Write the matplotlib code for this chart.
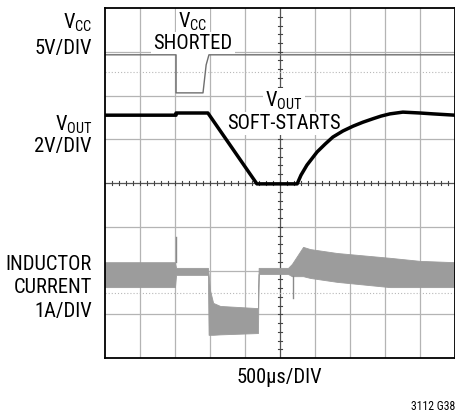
import matplotlib
matplotlib.use("Agg")
import matplotlib.pyplot as plt
from matplotlib import font_manager

# ---------------- data (scope divisions: x 0..10, y 0..8) ----------------
vcc_t = [0.0, 2.03, 2.03, 2.80, 2.89, 2.97, 10.0]
vcc_v = [6.93, 6.93, 6.06, 6.06, 6.70, 6.93, 6.93]

vout_t = [0.0, 2.03, 2.03, 2.94, 4.34, 5.49, 5.60, 5.77, 6.06, 6.29, 6.51, 6.80,
          7.09, 7.37, 7.66, 7.89, 8.14, 8.51, 9.00, 9.37, 10.0]
vout_v = [5.55, 5.55, 5.60, 5.60, 3.98, 3.98, 4.18, 4.41, 4.71, 4.89, 5.05, 5.19,
          5.30, 5.39, 5.47, 5.53, 5.58, 5.62, 5.60, 5.58, 5.55]

il_t = [0.0, 2.00, 2.03, 2.94, 2.96, 3.00, 3.09, 3.29, 4.37, 4.39, 5.23, 5.34, 5.66, 5.86, 6.63, 8.14, 9.00, 10.0]
il_hi = [2.19, 2.19, 2.06, 2.06, 1.92, 1.55, 1.26, 1.19, 1.14, 2.06, 2.06, 2.15, 2.54, 2.49, 2.40, 2.29, 2.22, 2.19]
il_lo = [1.62, 1.62, 1.90, 1.90, 0.53, 0.53, 0.53, 0.54, 0.57, 1.92, 1.92, 1.87, 1.87, 1.83, 1.74, 1.62, 1.62, 1.62]

spike_t = [2.03, 5.37]
spike_from = [2.19, 1.87]
spike_to = [2.77, 1.37]

marker_levels = [6.54, 1.49]

left_labels = [("V$_{\\mathregular{CC}}$", 29), ("5V/DIV", 54),
               ("V$_{\\mathregular{OUT}}$", 131), ("2V/DIV", 152),
               ("INDUCTOR", 270), ("CURRENT", 293), ("1A/DIV", 317)]

# ---------------- style ----------------
names = {f.name for f in font_manager.fontManager.ttflist}
fam, FS = "Roboto", 13.0
for cand in ["Roboto Condensed", "Liberation Sans Narrow", "Arial Narrow"]:
    if cand in names:
        fam, FS = cand, 14.8
        break
if fam not in names:
    fam, FS = "Liberation Sans", 12.2
plt.rcParams["font.family"] = [fam, "DejaVu Sans"]
plt.rcParams["mathtext.fontset"] = "custom"
plt.rcParams["mathtext.rm"] = fam
plt.rcParams["mathtext.it"] = fam
plt.rcParams["mathtext.bf"] = fam

W, H = 456, 416
fig = plt.figure(figsize=(W / 100, H / 100), dpi=100)
ax = fig.add_axes([105 / W, (H - 358) / H, 350 / W, 350 / H])
ax.set_xlim(0, 10)
ax.set_ylim(0, 8)
ax.set_xticks([])
ax.set_yticks([])
for s in ax.spines.values():
    s.set_linewidth(1.3)
    s.set_color("black")
    s.set_zorder(6)

def fx(px):
    return px / W

def fy(py):
    return 1 - py / H

grid_c = "#b4b4b4"
for i in range(1, 10):
    if i != 5:
        ax.axvline(i, color=grid_c, lw=0.9, zorder=1)
for j in range(1, 8):
    if j != 4:
        ax.axhline(j, color=grid_c, lw=0.9, zorder=1)
# center graticule with minor ticks
ax.axvline(5, color="#555555", lw=0.9, zorder=1)
ax.axhline(4, color="#555555", lw=0.9, zorder=1)
for k in range(1, 50):
    x = k * 0.2
    ax.plot([x, x], [4 - 0.05, 4 + 0.05], color="#444444", lw=0.8, zorder=1)
for k in range(1, 40):
    y = k * 0.2
    ax.plot([5 - 0.06, 5 + 0.06], [y, y], color="#444444", lw=0.8, zorder=1)
for lvl in marker_levels:
    ax.axhline(lvl, color="#b8b8b8", lw=0.8, ls=(0, (1, 1.8)), zorder=1)

# traces
ax.fill_between(il_t, il_lo, il_hi, color="#9c9c9c", lw=0.6, edgecolor="#9c9c9c", zorder=3)
for t, a, b in zip(spike_t, spike_from, spike_to):
    ax.plot([t, t], [a, b], color="#8a8a8a", lw=1.0, zorder=3.5)
ax.plot(vcc_t, vcc_v, color="#6e6e6e", lw=1.0, zorder=3)
ax.plot(vout_t, vout_v, color="black", lw=2.5, zorder=4, solid_joinstyle="round")

# in-plot labels (white background, above grid, below traces)
box = dict(facecolor="white", edgecolor="none", pad=1.5)
tf = fig.transFigure
ax.text(fx(193), fy(28), "V$_{\\mathregular{CC}}$", ha="center", va="baseline", fontsize=FS, bbox=box, zorder=2, transform=tf)
ax.text(fx(193), fy(49), "SHORTED", ha="center", va="baseline", fontsize=FS, bbox=box, zorder=2, transform=tf)
ax.text(fx(284), fy(107), "V$_{\\mathregular{OUT}}$", ha="center", va="baseline", fontsize=FS, bbox=box, zorder=2, transform=tf)
ax.text(fx(284), fy(129), "SOFT-STARTS", ha="center", va="baseline", fontsize=FS, bbox=box, zorder=2, transform=tf)

for txt, base in left_labels:
    fig.text(fx(92), fy(base), txt, ha="right", va="baseline", fontsize=FS)

fig.text(fx(279), fy(383), "500µs/DIV", ha="center", va="baseline", fontsize=FS)
fig.text(fx(455), fy(410), "3112 G38", ha="right", va="baseline", fontsize=FS * 0.57)

fig.savefig("out.png", dpi=100)
